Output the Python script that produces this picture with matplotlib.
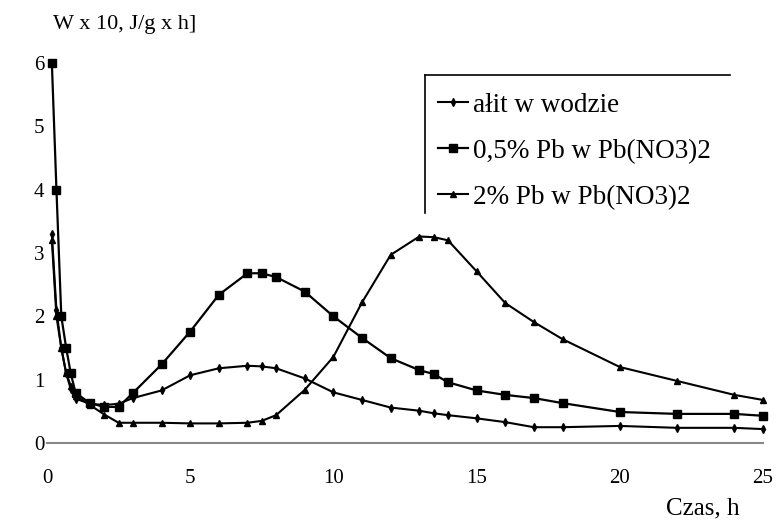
import matplotlib
matplotlib.use("Agg")
import matplotlib.pyplot as plt
from matplotlib.ticker import FixedLocator
from matplotlib.lines import Line2D

# time, h
czas = [0.17, 0.33, 0.5, 0.67, 0.83, 1.0, 1.5, 2.0, 2.5, 3, 4, 5, 6, 7, 7.5, 8, 9,
        10, 11, 12, 13, 13.5, 14, 15, 16, 17, 18, 20, 22, 24, 25]

alit_w_wodzie = [3.3, 2.1, 1.5, 1.1, 0.85, 0.7, 0.62, 0.6, 0.62, 0.71, 0.83, 1.07,
                 1.18, 1.22, 1.21, 1.18, 1.02, 0.8, 0.68, 0.56, 0.51, 0.47, 0.44,
                 0.39, 0.33, 0.25, 0.25, 0.27, 0.24, 0.24, 0.22]

pb_05 = [6.0, 4.0, 2.0, 1.5, 1.1, 0.79, 0.63, 0.57, 0.57, 0.79, 1.24, 1.76, 2.34,
         2.68, 2.68, 2.62, 2.39, 2.0, 1.66, 1.34, 1.15, 1.09, 0.96, 0.83, 0.76,
         0.71, 0.63, 0.49, 0.46, 0.46, 0.43]

pb_2 = [3.2, 2.0, 1.5, 1.1, 0.9, 0.75, 0.6, 0.45, 0.32, 0.32, 0.32, 0.31, 0.31,
        0.32, 0.35, 0.44, 0.84, 1.36, 2.22, 2.97, 3.26, 3.25, 3.2, 2.71, 2.21,
        1.91, 1.64, 1.2, 0.98, 0.76, 0.68]

labels = ["ałit w wodzie", "0,5% Pb w Pb(NO3)2", "2% Pb w Pb(NO3)2"]
x_ticks = [0, 5, 10, 15, 20, 25]
y_ticks = [0, 1, 2, 3, 4, 5, 6]

plt.rcParams['font.family'] = ['Liberation Serif', 'DejaVu Serif']

fig = plt.figure(figsize=(7.78, 5.2), dpi=100)
ax = fig.add_axes([0.0604, 0.148, 0.9203, 0.731])

ax.plot(czas, alit_w_wodzie, color='black', lw=1.5, marker='d', ms=4,
        label=labels[0], clip_on=False)
ax.plot(czas, pb_05, color='black', lw=1.6, marker='s', ms=6,
        label=labels[1], clip_on=False)
ax.plot(czas, pb_2, color='black', lw=1.5, marker='^', ms=5,
        label=labels[2], clip_on=False)

ax.set_xlim(0, 25)
ax.set_ylim(0, 6)
ax.set_xticks(x_ticks)
ax.set_yticks(y_ticks)
ax.xaxis.set_minor_locator(FixedLocator([10]))
ax.tick_params(axis='x', which='major', length=0, pad=19, labelsize=15)
ax.tick_params(axis='x', which='minor', length=6, width=1, color='#555555', direction='out')
ax.tick_params(axis='y', length=0, pad=2, labelsize=15)
for s in ['top', 'right', 'left']:
    ax.spines[s].set_visible(False)
ax.spines['bottom'].set_color('#888888')
ax.spines['bottom'].set_linewidth(1.5)

leg = ax.legend(loc='upper left', bbox_to_anchor=(0.563, 0.822),
                bbox_transform=fig.transFigure, frameon=False, fontsize=19.5,
                handlelength=1.1, labelspacing=0.78, handletextpad=0.2,
                borderaxespad=0, borderpad=0)
fig.add_artist(Line2D([0.546, 0.938], [0.856, 0.856], color='black', lw=1.2,
                      transform=fig.transFigure))
fig.add_artist(Line2D([0.546, 0.546], [0.856, 0.59], color='black', lw=1.2,
                      transform=fig.transFigure))

fig.text(0.068, 0.952, "W x 10, J/g x h]", fontsize=16, ha='left', va='center')
fig.text(0.951, 0.023, "Czas, h", fontsize=18, ha='right', va='center')

fig.savefig("out.png", dpi=100)
